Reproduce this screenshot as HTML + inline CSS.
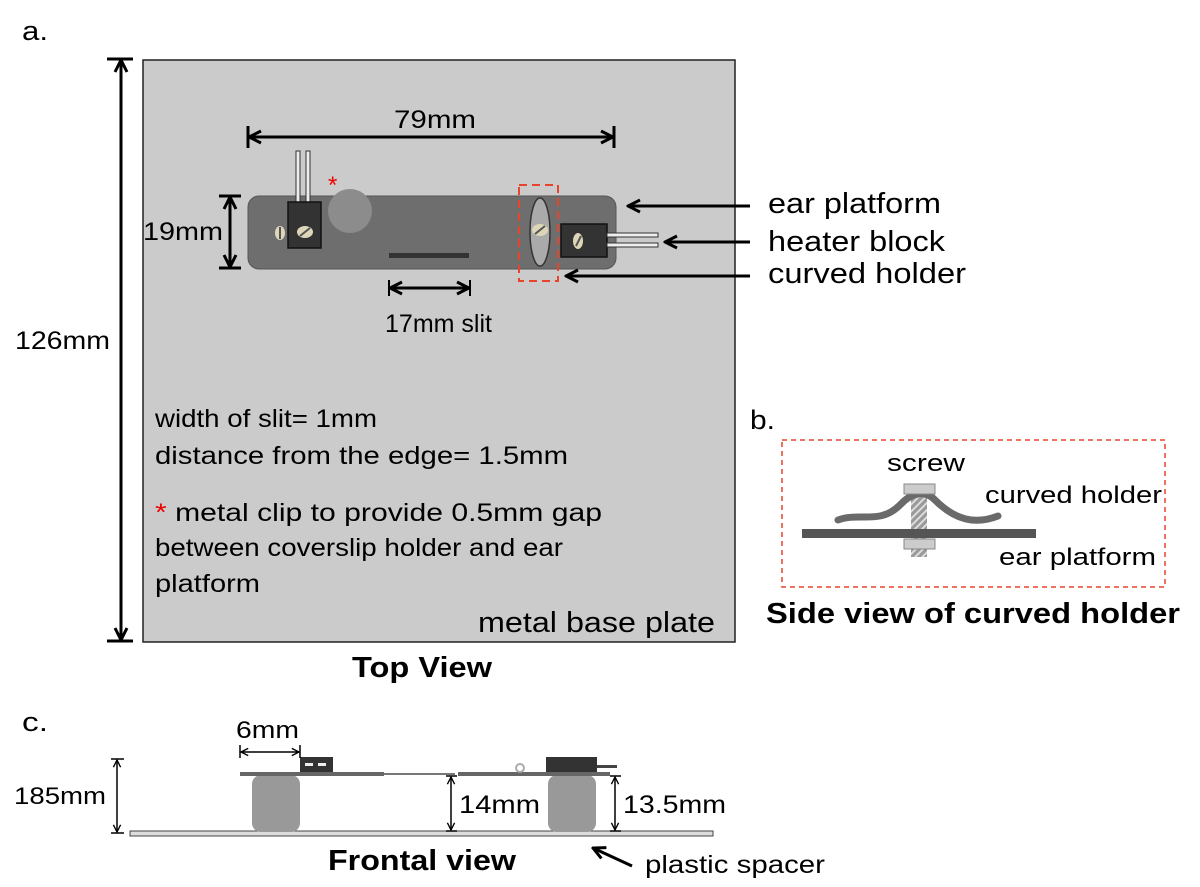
<!DOCTYPE html>
<html><head><style>body{margin:0;background:#fff}svg{display:block}text{font-family:"Liberation Sans",Arial,sans-serif;fill:#000}</style></head>
<body>
<svg width="1200" height="887" viewBox="0 0 1200 887" xmlns="http://www.w3.org/2000/svg">
<defs>
<marker id="a" viewBox="0 0 10 10" refX="9" refY="5" markerWidth="5" markerHeight="5" orient="auto-start-reverse"><path d="M1 1L9 5L1 9" fill="none" stroke="#000" stroke-width="2"/></marker>
<marker id="s" viewBox="0 0 10 10" refX="9" refY="5" markerWidth="6" markerHeight="6" orient="auto-start-reverse"><path d="M1 1L9 5L1 9" fill="none" stroke="#000" stroke-width="1.5"/></marker>
<pattern id="h" width="5" height="5" patternUnits="userSpaceOnUse" patternTransform="rotate(45)"><rect width="5" height="5" fill="#999"/><rect width="2" height="5" fill="#ddd"/></pattern>
</defs>
<text x="22" y="40" font-size="27" textLength="26" lengthAdjust="spacingAndGlyphs">a.</text>
<rect x="143" y="60" width="592" height="582" fill="#cbcbcb" stroke="#222" stroke-width="1.5"/>
<line x1="121" y1="60" x2="121" y2="640" stroke="#000" stroke-width="3" marker-start="url(#a)" marker-end="url(#a)"/>
<line x1="107" y1="59" x2="133" y2="59" stroke="#000" stroke-width="3"/>
<line x1="107" y1="641" x2="133" y2="641" stroke="#000" stroke-width="3"/>
<text x="15" y="349" font-size="25" textLength="95" lengthAdjust="spacingAndGlyphs">126mm</text>
<line x1="249" y1="137" x2="613" y2="137" stroke="#000" stroke-width="3" marker-start="url(#a)" marker-end="url(#a)"/>
<line x1="248" y1="126" x2="248" y2="148" stroke="#000" stroke-width="3"/>
<line x1="614" y1="126" x2="614" y2="148" stroke="#000" stroke-width="3"/>
<text x="394" y="128" font-size="25" textLength="82" lengthAdjust="spacingAndGlyphs">79mm</text>
<line x1="230" y1="197" x2="230" y2="267" stroke="#000" stroke-width="3" marker-start="url(#a)" marker-end="url(#a)"/>
<line x1="219" y1="196" x2="241" y2="196" stroke="#000" stroke-width="3"/>
<line x1="219" y1="268" x2="241" y2="268" stroke="#000" stroke-width="3"/>
<text x="143" y="240" font-size="25" textLength="80" lengthAdjust="spacingAndGlyphs">19mm</text>
<rect x="248" y="196" width="368" height="73" rx="11" fill="#6e6e6e" stroke="#555"/>
<rect x="296" y="151" width="4" height="51" fill="#eee" stroke="#333"/>
<rect x="306" y="151" width="4" height="51" fill="#eee" stroke="#333"/>
<rect x="288" y="202" width="33" height="46" fill="#333" stroke="#111" stroke-width="1.5"/>
<ellipse cx="305" cy="232" rx="8" ry="6" fill="#ddd6b8"/><line x1="300" y1="236" x2="310" y2="228" stroke="#555" stroke-width="2"/>
<ellipse cx="280" cy="233" rx="5" ry="7" fill="#ddd6b8"/><line x1="280" y1="227" x2="280" y2="239" stroke="#555" stroke-width="2"/>
<circle cx="350" cy="211" r="22" fill="#8c8c8c"/>
<text x="328" y="193" font-size="24" style="fill:#e00">*</text>
<rect x="389" y="253" width="80" height="5" fill="#333"/>
<ellipse cx="540" cy="232" rx="10" ry="34" fill="#aaa" stroke="#333" stroke-width="1.5"/>
<ellipse cx="540" cy="230" rx="8" ry="6" fill="#ddd6b8"/><line x1="535" y1="234" x2="545" y2="226" stroke="#555" stroke-width="2"/>
<rect x="561" y="224" width="46" height="33" fill="#333" stroke="#111" stroke-width="1.5"/>
<ellipse cx="578" cy="241" rx="5" ry="8" fill="#ddd6b8"/><line x1="576" y1="246" x2="581" y2="236" stroke="#555" stroke-width="2"/>
<rect x="607" y="233" width="51" height="4" fill="#eee" stroke="#333"/>
<rect x="607" y="243" width="51" height="4" fill="#eee" stroke="#333"/>
<rect x="519" y="185" width="39" height="96" fill="none" stroke="#e8432b" stroke-width="2" stroke-dasharray="8,5"/>
<line x1="390" y1="288" x2="469" y2="288" stroke="#000" stroke-width="3" marker-start="url(#a)" marker-end="url(#a)"/>
<line x1="389" y1="280" x2="389" y2="296" stroke="#000" stroke-width="2"/>
<line x1="470" y1="280" x2="470" y2="296" stroke="#000" stroke-width="2"/>
<text x="385" y="332" font-size="25" textLength="107" lengthAdjust="spacingAndGlyphs">17mm slit</text>
<line x1="750" y1="206" x2="628" y2="206" stroke="#000" stroke-width="3" marker-end="url(#a)"/>
<line x1="750" y1="242" x2="665" y2="242" stroke="#000" stroke-width="3" marker-end="url(#a)"/>
<line x1="750" y1="276" x2="566" y2="276" stroke="#000" stroke-width="3" marker-end="url(#a)"/>
<text x="768" y="213" font-size="29" textLength="173" lengthAdjust="spacingAndGlyphs">ear platform</text>
<text x="768" y="251" font-size="29" textLength="177" lengthAdjust="spacingAndGlyphs">heater block</text>
<text x="768" y="283" font-size="29" textLength="198" lengthAdjust="spacingAndGlyphs">curved holder</text>
<text x="155" y="427" font-size="25" textLength="222" lengthAdjust="spacingAndGlyphs">width of slit= 1mm</text>
<text x="155" y="464" font-size="25" textLength="413" lengthAdjust="spacingAndGlyphs">distance from the edge= 1.5mm</text>
<text x="155" y="521" font-size="25" textLength="447" lengthAdjust="spacingAndGlyphs"><tspan style="fill:#e00">*</tspan> metal clip to provide 0.5mm gap</text>
<text x="155" y="556" font-size="25" textLength="408" lengthAdjust="spacingAndGlyphs">between coverslip holder and ear</text>
<text x="155" y="592" font-size="25" textLength="105" lengthAdjust="spacingAndGlyphs">platform</text>
<text x="478" y="632" font-size="29" textLength="237" lengthAdjust="spacingAndGlyphs">metal base plate</text>
<text x="352" y="677" font-size="29" font-weight="bold" textLength="140" lengthAdjust="spacingAndGlyphs">Top View</text>
<text x="750" y="429" font-size="27" textLength="25" lengthAdjust="spacingAndGlyphs">b.</text>
<rect x="782" y="440" width="383" height="147" fill="none" stroke="#e8432b" stroke-width="1.5" stroke-dasharray="5,4"/>
<text x="887" y="471" font-size="24" textLength="78" lengthAdjust="spacingAndGlyphs">screw</text>
<text x="985" y="503" font-size="24" textLength="177" lengthAdjust="spacingAndGlyphs">curved holder</text>
<text x="999" y="565" font-size="24" textLength="157" lengthAdjust="spacingAndGlyphs">ear platform</text>
<rect x="911" y="494" width="16" height="63" fill="url(#h)"/>
<path d="M838 520 C860 512 880 525 900 505 C912 492 925 490 935 500 C955 520 975 525 998 516" fill="none" stroke="#6a6a6a" stroke-width="7" stroke-linecap="round"/>
<rect x="802" y="529" width="234" height="9" fill="#555"/>
<rect x="904" y="484" width="31" height="10" fill="#ccc" stroke="#888"/>
<rect x="904" y="539" width="31" height="10" fill="#ccc" stroke="#888"/>
<text x="766" y="623" font-size="29" font-weight="bold" textLength="414" lengthAdjust="spacingAndGlyphs">Side view of curved holder</text>
<text x="22" y="731" font-size="27" textLength="26" lengthAdjust="spacingAndGlyphs">c.</text>
<rect x="130" y="831" width="583" height="5" fill="#ddd" stroke="#444"/>
<rect x="252" y="775" width="48" height="57" rx="9" fill="#999"/>
<rect x="548" y="775" width="48" height="57" rx="9" fill="#999"/>
<rect x="240" y="772" width="144" height="4" fill="#666"/>
<rect x="384" y="773" width="71" height="2" fill="#777"/>
<rect x="458" y="772" width="152" height="4" fill="#666"/>
<rect x="300" y="757" width="33" height="15" fill="#333"/>
<rect x="305" y="763" width="8" height="3" fill="#eee"/><rect x="318" y="763" width="8" height="3" fill="#eee"/>
<circle cx="520" cy="768" r="4" fill="none" stroke="#aaa" stroke-width="2"/>
<rect x="546" y="757" width="51" height="15" fill="#333"/>
<rect x="597" y="765" width="20" height="3" fill="#444"/>
<line x1="241" y1="752" x2="299" y2="752" stroke="#000" stroke-width="1.5" marker-start="url(#s)" marker-end="url(#s)"/>
<line x1="240" y1="745" x2="240" y2="758" stroke="#000" stroke-width="1.5"/>
<line x1="300" y1="745" x2="300" y2="758" stroke="#000" stroke-width="1.5"/>
<text x="236" y="738" font-size="24" textLength="63" lengthAdjust="spacingAndGlyphs">6mm</text>
<line x1="117" y1="760" x2="117" y2="832" stroke="#000" stroke-width="1.5" marker-start="url(#s)" marker-end="url(#s)"/>
<line x1="111" y1="759" x2="124" y2="759" stroke="#000" stroke-width="1.5"/><line x1="111" y1="833" x2="124" y2="833" stroke="#000" stroke-width="1.5"/>
<text x="14" y="804" font-size="24" textLength="92" lengthAdjust="spacingAndGlyphs">185mm</text>
<line x1="451" y1="777" x2="451" y2="830" stroke="#000" stroke-width="1.5" marker-start="url(#s)" marker-end="url(#s)"/>
<line x1="446" y1="776" x2="457" y2="776" stroke="#000" stroke-width="1.5"/><line x1="446" y1="831" x2="457" y2="831" stroke="#000" stroke-width="1.5"/>
<text x="459" y="813" font-size="25" textLength="81" lengthAdjust="spacingAndGlyphs">14mm</text>
<line x1="615" y1="777" x2="615" y2="830" stroke="#000" stroke-width="1.5" marker-start="url(#s)" marker-end="url(#s)"/>
<line x1="610" y1="776" x2="621" y2="776" stroke="#000" stroke-width="1.5"/><line x1="610" y1="831" x2="621" y2="831" stroke="#000" stroke-width="1.5"/>
<text x="623" y="813" font-size="25" textLength="103" lengthAdjust="spacingAndGlyphs">13.5mm</text>
<text x="328" y="870" font-size="29" font-weight="bold" textLength="188" lengthAdjust="spacingAndGlyphs">Frontal view</text>
<line x1="632" y1="866" x2="593" y2="848" stroke="#000" stroke-width="3" marker-end="url(#a)"/>
<text x="645" y="873" font-size="25" textLength="180" lengthAdjust="spacingAndGlyphs">plastic spacer</text>
</svg>
</body></html>
